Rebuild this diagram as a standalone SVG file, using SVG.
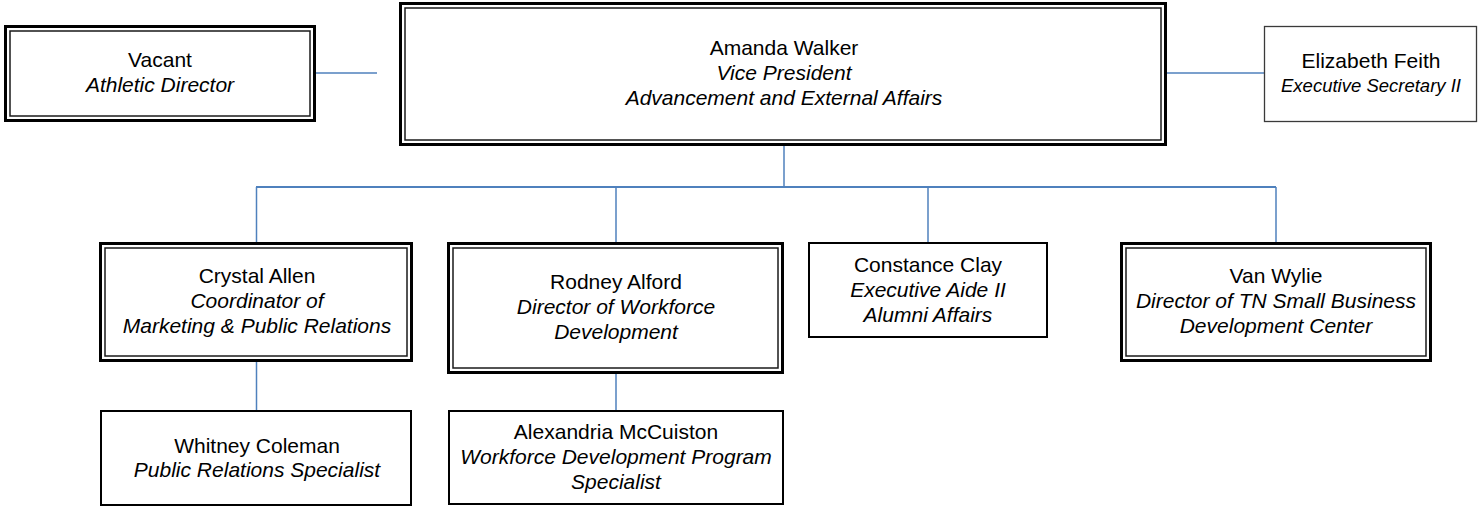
<svg xmlns="http://www.w3.org/2000/svg" width="1479" height="507" viewBox="0 0 1479 507">
<style>
  .bg{fill:#ffffff}
  .outer{fill:#ffffff;stroke:#000;stroke-width:3}
  .inner{fill:none;stroke:#1a1a1a;stroke-width:1.5}
  .single{fill:#ffffff;stroke:#000;stroke-width:2}
  .thin{fill:#ffffff;stroke:#3a3a3a;stroke-width:1.3}
  text{font-family:"Liberation Sans",Arial,sans-serif;font-size:21px;fill:#000;text-anchor:middle}
  .t{font-style:italic}
  .small{font-size:18.5px}
  .conn line, .conn path{stroke:#4f81bd;stroke-width:1.5;fill:none}
  .conn .bus{stroke-width:2}
</style>
<rect class="bg" x="0" y="0" width="1479" height="507"/>
<g id="connectors" class="conn">
  <line x1="316" y1="73" x2="377" y2="73"/>
  <line x1="1167" y1="73" x2="1264" y2="73"/>
  <line x1="784" y1="146" x2="784" y2="187"/>
  <line class="bus" x1="256" y1="187" x2="1276" y2="187"/>
  <line x1="256.5" y1="187" x2="256.5" y2="242"/>
  <line x1="616" y1="187" x2="616" y2="242"/>
  <line x1="928" y1="187" x2="928" y2="242"/>
  <line x1="1276" y1="187" x2="1276" y2="242"/>
  <line x1="256.5" y1="362" x2="256.5" y2="410"/>
  <line x1="616" y1="374" x2="616" y2="410"/>
</g>
<g id="vacant">
  <rect class="outer" x="5.5" y="26.5" width="309" height="94"/>
  <rect class="inner" x="10" y="31" width="300" height="85"/>
  <text x="160" y="67">Vacant</text>
  <text class="t" x="160" y="92">Athletic Director</text>
</g>
<g id="amanda-walker">
  <rect class="outer" x="400.5" y="3.5" width="765" height="141"/>
  <rect class="inner" x="405" y="8" width="756" height="132"/>
  <text x="784" y="55">Amanda Walker</text>
  <text class="t" x="784" y="80">Vice President</text>
  <text class="t" x="784" y="105">Advancement and External Affairs</text>
</g>
<g id="elizabeth-feith">
  <rect class="thin" x="1264.5" y="26.5" width="212" height="95"/>
  <text x="1371" y="68">Elizabeth Feith</text>
  <text class="t small" x="1371" y="92">Executive Secretary II</text>
</g>
<g id="crystal-allen">
  <rect class="outer" x="100.5" y="243.5" width="311" height="117"/>
  <rect class="inner" x="105" y="248" width="302" height="108"/>
  <text x="257" y="283">Crystal Allen</text>
  <text class="t" x="257" y="308">Coordinator of</text>
  <text class="t" x="257" y="333">Marketing &amp; Public Relations</text>
</g>
<g id="rodney-alford">
  <rect class="outer" x="448.5" y="243.5" width="334" height="129"/>
  <rect class="inner" x="453" y="248" width="325" height="120"/>
  <text x="616" y="289">Rodney Alford</text>
  <text class="t" x="616" y="314">Director of Workforce</text>
  <text class="t" x="616" y="339">Development</text>
</g>
<g id="constance-clay">
  <rect class="single" x="809" y="243" width="238" height="94"/>
  <text x="928" y="272">Constance Clay</text>
  <text class="t" x="928" y="297">Executive Aide II</text>
  <text class="t" x="928" y="322">Alumni Affairs</text>
</g>
<g id="van-wylie">
  <rect class="outer" x="1121.5" y="243.5" width="309" height="117"/>
  <rect class="inner" x="1126" y="248" width="300" height="108"/>
  <text x="1276" y="283">Van Wylie</text>
  <text class="t" x="1276" y="308">Director of TN Small Business</text>
  <text class="t" x="1276" y="333">Development Center</text>
</g>
<g id="whitney-coleman">
  <rect class="single" x="101" y="411" width="310" height="94"/>
  <text x="257" y="453">Whitney Coleman</text>
  <text class="t" x="257" y="477">Public Relations Specialist</text>
</g>
<g id="alexandria-mccuiston">
  <rect class="single" x="449" y="411" width="334" height="93"/>
  <text x="616" y="439">Alexandria McCuiston</text>
  <text class="t" x="616" y="464">Workforce Development Program</text>
  <text class="t" x="616" y="489">Specialist</text>
</g>
</svg>
